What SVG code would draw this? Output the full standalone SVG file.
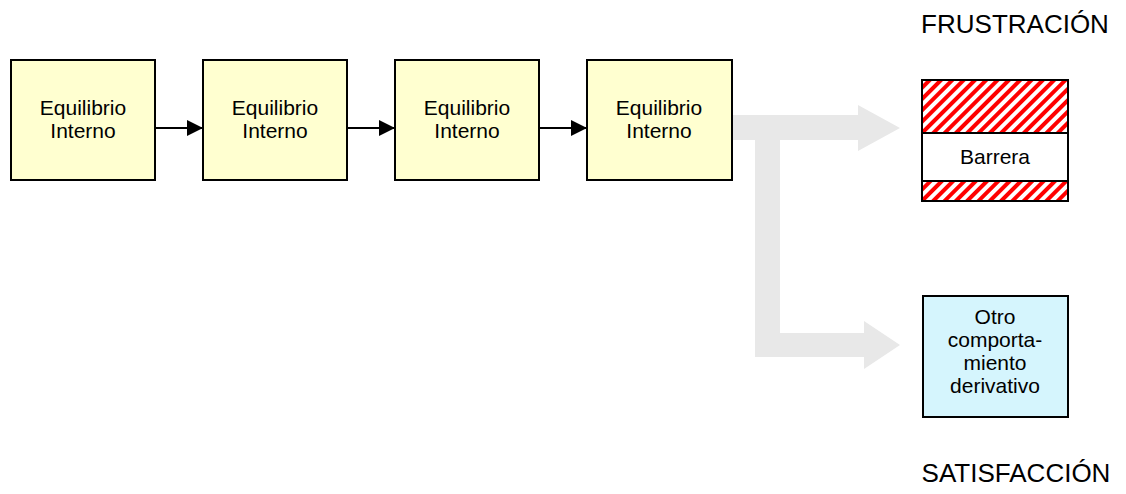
<svg xmlns="http://www.w3.org/2000/svg" width="1126" height="494" viewBox="0 0 1126 494">
  <style>
    text { font-family: "Liberation Sans", Arial, sans-serif; fill: #000; text-anchor: middle; }
    .lbl { font-size: 21px; }
    .big { font-size: 26px; }
    .stage { fill: #ffffd0; stroke: #000; stroke-width: 2; }
    .alt { fill: #d5f5fd; stroke: #000; stroke-width: 2; }
    .frame { fill: none; stroke: #000; stroke-width: 2; }
    .link { stroke: #000; stroke-width: 2; fill: none; }
    .flow { fill: #e8e8e8; }
  </style>
  <defs>
    <marker id="tip" markerWidth="16" markerHeight="16" refX="16" refY="8" orient="auto" markerUnits="userSpaceOnUse">
      <path d="M0,0 L16,8 L0,16 Z" fill="#000"/>
    </marker>
    <pattern id="hatch" width="8" height="8" patternUnits="userSpaceOnUse" patternTransform="rotate(45)">
      <rect width="8" height="8" fill="#fff"/>
      <rect width="4" height="8" fill="#f00"/>
    </pattern>
  </defs>

  <!-- wide grey flow arrows -->
  <g id="flow">
    <path class="flow" d="M732,115 L858,115 L858,105 L900,128 L858,151 L858,140 L780,140 L780,333 L864,333 L864,321 L900,345 L864,369 L864,357 L755,357 L755,140 L732,140 Z"/>
  </g>

  <g id="connectors">
    <line class="link" x1="155" y1="128" x2="203" y2="128" marker-end="url(#tip)"/>
    <line class="link" x1="347" y1="128" x2="395" y2="128" marker-end="url(#tip)"/>
    <line class="link" x1="539" y1="128" x2="587" y2="128" marker-end="url(#tip)"/>
  </g>

  <g id="stage1">
    <rect class="stage" x="11" y="60" width="144" height="120"/>
    <text class="lbl" x="83" y="115">Equilibrio</text>
    <text class="lbl" x="83" y="138">Interno</text>
  </g>
  <g id="stage2">
    <rect class="stage" x="203" y="60" width="144" height="120"/>
    <text class="lbl" x="275" y="115">Equilibrio</text>
    <text class="lbl" x="275" y="138">Interno</text>
  </g>
  <g id="stage3">
    <rect class="stage" x="395" y="60" width="144" height="120"/>
    <text class="lbl" x="467" y="115">Equilibrio</text>
    <text class="lbl" x="467" y="138">Interno</text>
  </g>
  <g id="stage4">
    <rect class="stage" x="587" y="60" width="145" height="120"/>
    <text class="lbl" x="659" y="115">Equilibrio</text>
    <text class="lbl" x="659" y="138">Interno</text>
  </g>

  <g id="frustration-title">
    <text class="big" x="1015" y="33">FRUSTRACIÓN</text>
  </g>

  <g id="barrier">
    <rect x="922" y="80" width="146" height="53" fill="url(#hatch)"/>
    <rect x="922" y="181" width="146" height="20" fill="url(#hatch)"/>
    <rect x="922" y="133" width="146" height="48" fill="#fff"/>
    <rect class="frame" x="922" y="80" width="146" height="121"/>
    <line class="link" x1="922" y1="133" x2="1068" y2="133"/>
    <line class="link" x1="922" y1="181" x2="1068" y2="181"/>
    <text class="lbl" x="995" y="164">Barrera</text>
  </g>

  <g id="derivative">
    <rect class="alt" x="923" y="296" width="145" height="121"/>
    <text class="lbl" x="995" y="324">Otro</text>
    <text class="lbl" x="995" y="347">comporta-</text>
    <text class="lbl" x="995" y="370">miento</text>
    <text class="lbl" x="995" y="393">derivativo</text>
  </g>

  <g id="satisfaction-title">
    <text class="big" x="1016" y="482">SATISFACCIÓN</text>
  </g>
</svg>
